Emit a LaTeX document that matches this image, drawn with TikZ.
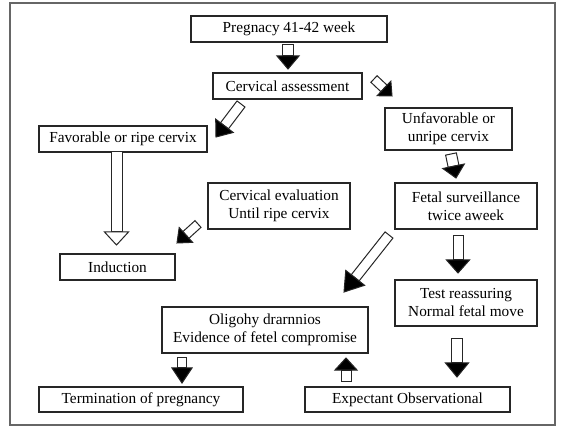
\documentclass[tikz,border=0pt]{standalone}
\usepackage{fontspec}
\setmainfont{Liberation Serif}
\usetikzlibrary{calc}
\newcommand\boxfont{\fontsize{15.3}{18}\selectfont}
\tikzset{
  box/.style={draw=black!85, line width=1.1pt, inner sep=0pt, align=center, font=\boxfont},
  arrline/.style={draw=black!85, line width=1pt, line join=miter},
  frameline/.style={draw=black!60, line width=1.2pt}
}
\newcommand\blockarr[6]{%
  \path let \p1=($(#2)-(#1)$) in \pgfextra{%
    \pgfmathsetmacro\barang{atan2(\y1,\x1)}%
    \pgfmathsetmacro\barlen{veclen(\x1,\y1)}%
    \global\let\barang\barang\global\let\barlen\barlen};
  \begin{scope}[shift={(#1)},rotate=\barang]
    \draw[arrline,fill=white] (0,-#3/2) rectangle (\barlen-#5,#3/2);
    \draw[arrline,fill=#6] (\barlen-#5,-#4/2) -- (\barlen,0) -- (\barlen-#5,#4/2) -- cycle;
  \end{scope}}
\begin{document}
\begin{tikzpicture}[x=1pt,y=-1pt]
\useasboundingbox (0,0) rectangle (562,427);
\fill[white] (0,0) rectangle (562,427);
\draw[frameline] (10,3) rectangle (555,425);
% boxes
\node[box,minimum width=196pt,minimum height=26pt] (preg) at (289,29) {Pregnacy 41-42 week};
\node[box,minimum width=149pt,minimum height=26pt] (cerv) at (287.5,86) {Cervical assessment};
\node[box,minimum width=168pt,minimum height=26pt] (fav) at (123,139) {Favorable or ripe cervix};
\node[box,minimum width=127pt,minimum height=42pt] (unfav) at (448.5,129) {Unfavorable or\\unripe cervix};
\node[box,minimum width=142pt,minimum height=46pt] (fetal) at (466,206) {Fetal surveillance\\twice aweek};
\node[box,minimum width=142pt,minimum height=46pt] (ceval) at (279,206) {Cervical evaluation\\Until ripe cervix};
\node[box,minimum width=115pt,minimum height=26pt] (induc) at (117.5,267) {Induction};
\node[box,minimum width=142pt,minimum height=46pt] (test) at (466,303) {Test reassuring\\Normal fetal move};
\node[box,minimum width=206pt,minimum height=46pt] (oligo) at (265,330) {Oligohy drarnnios\\Evidence of fetel compromise};
\node[box,minimum width=204pt,minimum height=25pt] (term) at (141,399.5) {Termination of pregnancy};
\node[box,minimum width=205pt,minimum height=25pt] (expect) at (407.5,399.5) {Expectant Observational};
% arrow end points
\coordinate (a1s) at (288,45);   \coordinate (a1e) at (288,69);
\coordinate (a2s) at (374,79);   \coordinate (a2e) at (392,96);
\coordinate (a3s) at (241,104);  \coordinate (a3e) at (216,137);
\coordinate (a4s) at (451,154);  \coordinate (a4e) at (456,178);
\coordinate (a5s) at (458,236);  \coordinate (a5e) at (458,273);
\coordinate (a6s) at (457,339);  \coordinate (a6e) at (457,377);
\coordinate (a7s) at (182,358);  \coordinate (a7e) at (182,383);
\coordinate (a8s) at (346,381);  \coordinate (a8e) at (346,358);
\coordinate (a9s) at (389,235);  \coordinate (a9e) at (344,292);
\coordinate (a10s) at (198,224); \coordinate (a10e) at (177,243);
\coordinate (a11s) at (116.5,152); \coordinate (a11e) at (116.5,245);
% arrows
\blockarr{a1s}{a1e}{11}{22}{13}{black}
\blockarr{a2s}{a2e}{9}{20}{11}{black}
\blockarr{a3s}{a3e}{10}{22}{14}{black}
\blockarr{a4s}{a4e}{11}{22}{12}{black}
\blockarr{a5s}{a5e}{10}{23}{13}{black}
\blockarr{a6s}{a6e}{11}{23}{14}{black}
\blockarr{a7s}{a7e}{9}{20}{15}{black}
\blockarr{a8s}{a8e}{10}{22}{12}{black}
\blockarr{a9s}{a9e}{10}{24}{18}{black}
\blockarr{a10s}{a10e}{9}{20}{12}{black}
\blockarr{a11s}{a11e}{11}{24}{13}{white}
\end{tikzpicture}
\end{document}
